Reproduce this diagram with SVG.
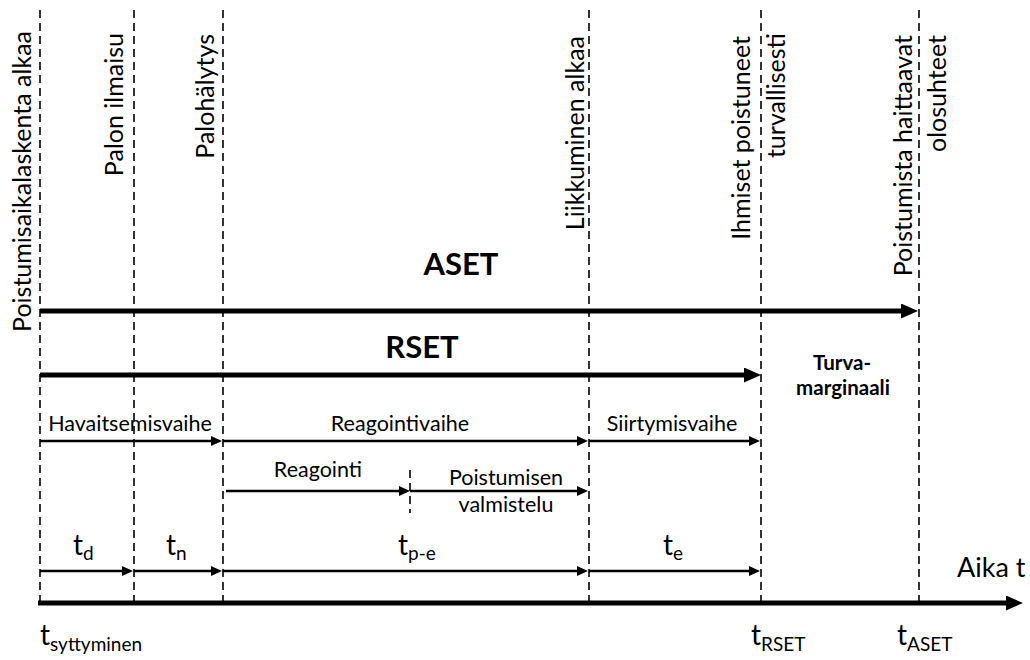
<svg xmlns="http://www.w3.org/2000/svg" width="1030" height="660" viewBox="0 0 1030 660">
  <style>
    text { font-family: Lato, "Open Sans", "Liberation Sans", sans-serif; fill: #000; }
    .event { font-size: 25px; }
    .phase { font-size: 21.5px; }
    .big { font-size: 31px; font-weight: bold; }
    .margin { font-size: 20.5px; font-weight: bold; }
    .t { font-size: 28px; }
    .sub { font-size: 19px; }
    .axislbl { font-size: 27px; }
    .mark { stroke: #000; stroke-width: 1.6; stroke-dasharray: 8 5; fill: none; }
    .thick { stroke: #000; stroke-width: 5; fill: none; marker-end: url(#headBig); }
    .thin { stroke: #000; stroke-width: 2.4; fill: none; marker-end: url(#headSmall); }
  </style>
  <defs>
    <marker id="headBig" markerUnits="userSpaceOnUse" markerWidth="18" markerHeight="16" refX="5" refY="7.5" orient="auto">
      <path d="M0,0 L17,7.5 L0,15 Z" fill="#000"/>
    </marker>
    <marker id="headSmall" markerUnits="userSpaceOnUse" markerWidth="12" markerHeight="11" refX="3" refY="5" orient="auto">
      <path d="M0,0 L11,5 L0,10 Z" fill="#000"/>
    </marker>
  </defs>

  <rect width="1030" height="660" fill="#fff"/>

  <!-- event markers: dashed verticals with rotated captions -->
  <g id="ev-start">
    <line class="mark" x1="40" y1="10" x2="40" y2="603"/>
    <text class="event" text-anchor="end" transform="translate(31,31) rotate(-90)">Poistumisaikalaskenta alkaa</text>
  </g>
  <g id="ev-detection">
    <line class="mark" x1="134" y1="10" x2="134" y2="603"/>
    <text class="event" text-anchor="end" transform="translate(123,33) rotate(-90)">Palon ilmaisu</text>
  </g>
  <g id="ev-alarm">
    <line class="mark" x1="223" y1="10" x2="223" y2="603"/>
    <text class="event" text-anchor="end" transform="translate(214,34) rotate(-90)">Palohälytys</text>
  </g>
  <g id="ev-movement">
    <line class="mark" x1="589" y1="10" x2="589" y2="603"/>
    <text class="event" text-anchor="end" transform="translate(584,36) rotate(-90)">Liikkuminen alkaa</text>
  </g>
  <g id="ev-rset">
    <line class="mark" x1="761" y1="10" x2="761" y2="603"/>
    <text class="event" text-anchor="end" transform="translate(750,36) rotate(-90)">Ihmiset poistuneet</text>
    <text class="event" text-anchor="end" transform="translate(785,33) rotate(-90)">turvallisesti</text>
  </g>
  <g id="ev-aset">
    <line class="mark" x1="919" y1="10" x2="919" y2="603"/>
    <text class="event" text-anchor="end" transform="translate(912,35) rotate(-90)">Poistumista haittaavat</text>
    <text class="event" text-anchor="end" transform="translate(946,35) rotate(-90)">olosuhteet</text>
  </g>
  <g id="ev-prep">
    <line class="mark" x1="410" y1="470" x2="410" y2="513"/>
  </g>

  <!-- arrows -->
  <g id="connectors">
    <line class="thick" x1="40" y1="311" x2="906" y2="311"/>
    <line class="thick" x1="40" y1="375" x2="749" y2="375"/>
    <line class="thin" x1="40" y1="441" x2="214" y2="441"/>
    <line class="thin" x1="223" y1="441" x2="580" y2="441"/>
    <line class="thin" x1="589" y1="441" x2="752" y2="441"/>
    <line class="thin" x1="226" y1="491" x2="402" y2="491"/>
    <line class="thin" x1="410" y1="491" x2="580" y2="491"/>
    <line class="thin" x1="40" y1="571" x2="125" y2="571"/>
    <line class="thin" x1="134" y1="571" x2="214" y2="571"/>
    <line class="thin" x1="223" y1="571" x2="580" y2="571"/>
    <line class="thin" x1="589" y1="571" x2="752" y2="571"/>
    <line class="thick" x1="38" y1="603" x2="1011" y2="603"/>
  </g>

  <!-- interval labels -->
  <g id="lbl-aset"><text class="big" x="461" y="275" text-anchor="middle">ASET</text></g>
  <g id="lbl-rset"><text class="big" x="422" y="358" text-anchor="middle">RSET</text></g>
  <g id="lbl-margin">
    <text class="margin" x="842" y="370" text-anchor="middle">Turva-</text>
    <text class="margin" x="843" y="395" text-anchor="middle">marginaali</text>
  </g>
  <g id="lbl-phases">
    <text class="phase" x="130" y="431" text-anchor="middle">Havaitsemisvaihe</text>
    <text class="phase" x="400" y="431" text-anchor="middle">Reagointivaihe</text>
    <text class="phase" x="672" y="431" text-anchor="middle">Siirtymisvaihe</text>
    <text class="phase" x="318" y="477" text-anchor="middle">Reagointi</text>
    <text class="phase" x="506" y="485" text-anchor="middle">Poistumisen</text>
    <text class="phase" x="506" y="512" text-anchor="middle">valmistelu</text>
  </g>
  <g id="lbl-times">
    <text class="t" x="73" y="555">t<tspan class="sub" dy="5">d</tspan></text>
    <text class="t" x="166" y="555">t<tspan class="sub" dy="5">n</tspan></text>
    <text class="t" x="398" y="555">t<tspan class="sub" dy="5">p-e</tspan></text>
    <text class="t" x="663" y="555">t<tspan class="sub" dy="5">e</tspan></text>
    <text class="t" x="40" y="645">t<tspan class="sub" dy="6">syttyminen</tspan></text>
    <text class="t" x="751" y="645">t<tspan class="sub" dy="6">RSET</tspan></text>
    <text class="t" x="897" y="645">t<tspan class="sub" dy="6">ASET</tspan></text>
    <text class="axislbl" x="957" y="577">Aika t</text>
  </g>
</svg>
